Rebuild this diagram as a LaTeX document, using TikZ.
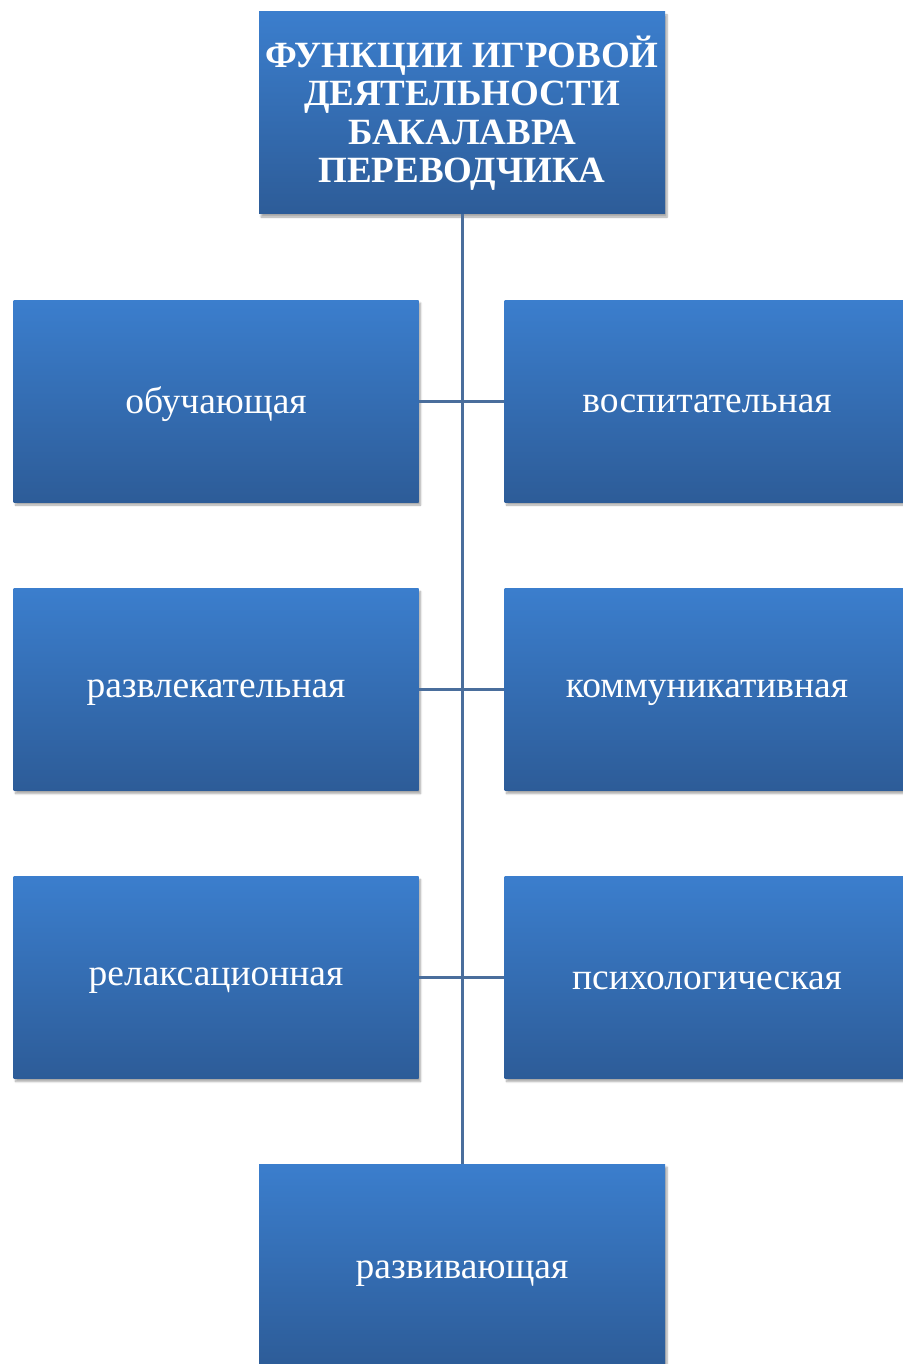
\documentclass[tikz,border=0pt]{standalone}
\usepackage{fontspec}
\setmainfont{Liberation Serif}
\usetikzlibrary{shadows.blur}
\definecolor{boxtop}{HTML}{3B7ECD}
\definecolor{boxbot}{HTML}{2D5C98}
\definecolor{linec}{HTML}{4A6E9C}
\tikzset{
  fbox/.style={rectangle, minimum width=405pt, minimum height=202pt, inner sep=0pt,
    top color=boxtop, bottom color=boxbot, draw=none,
    blur shadow={shadow xshift=2pt, shadow yshift=-3pt, shadow blur steps=6, shadow opacity=35}},
  txt/.style={text=white, font=\fontsize{37.5}{40}\selectfont, align=center, inner sep=0pt, yshift=-3pt},
  titletxt/.style={text=white, font=\fontsize{37}{38.5}\selectfont\bfseries, align=center, inner sep=0pt},
  conn/.style={draw=linec, line width=3pt}
}
\begin{document}
\begin{tikzpicture}[x=1pt,y=-1pt]
\useasboundingbox (0,0) rectangle (902,1364);
\node[fbox, minimum width=406pt, label={[titletxt]center:ФУНКЦИИ ИГРОВОЙ\\ДЕЯТЕЛЬНОСТИ\\БАКАЛАВРА\\ПЕРЕВОДЧИКА}] (title) at (462,113) {};
\node[fbox, minimum width=406pt, label={[txt, yshift=-6pt]center:развивающая}] (dev) at (462,1265) {};
\draw[conn] (title.south) -- (dev.north);
\node[fbox, label={[txt]center:обучающая}] (l1) at (216,401) {};
\node[fbox, label={[txt]center:развлекательная}] (l2) at (216,689.5) {};
\node[fbox, label={[txt]center:релаксационная}] (l3) at (216,977.5) {};
\node[fbox, label={[txt]center:воспитательная}] (r1) at (707,401) {};
\node[fbox, label={[txt]center:коммуникативная}] (r2) at (707,689.5) {};
\node[fbox, label={[txt]center:психологическая}] (r3) at (707,977.5) {};
\draw[conn] (l1.east) -- (r1.west);
\draw[conn] (l2.east) -- (r2.west);
\draw[conn] (l3.east) -- (r3.west);
\end{tikzpicture}
\end{document}
